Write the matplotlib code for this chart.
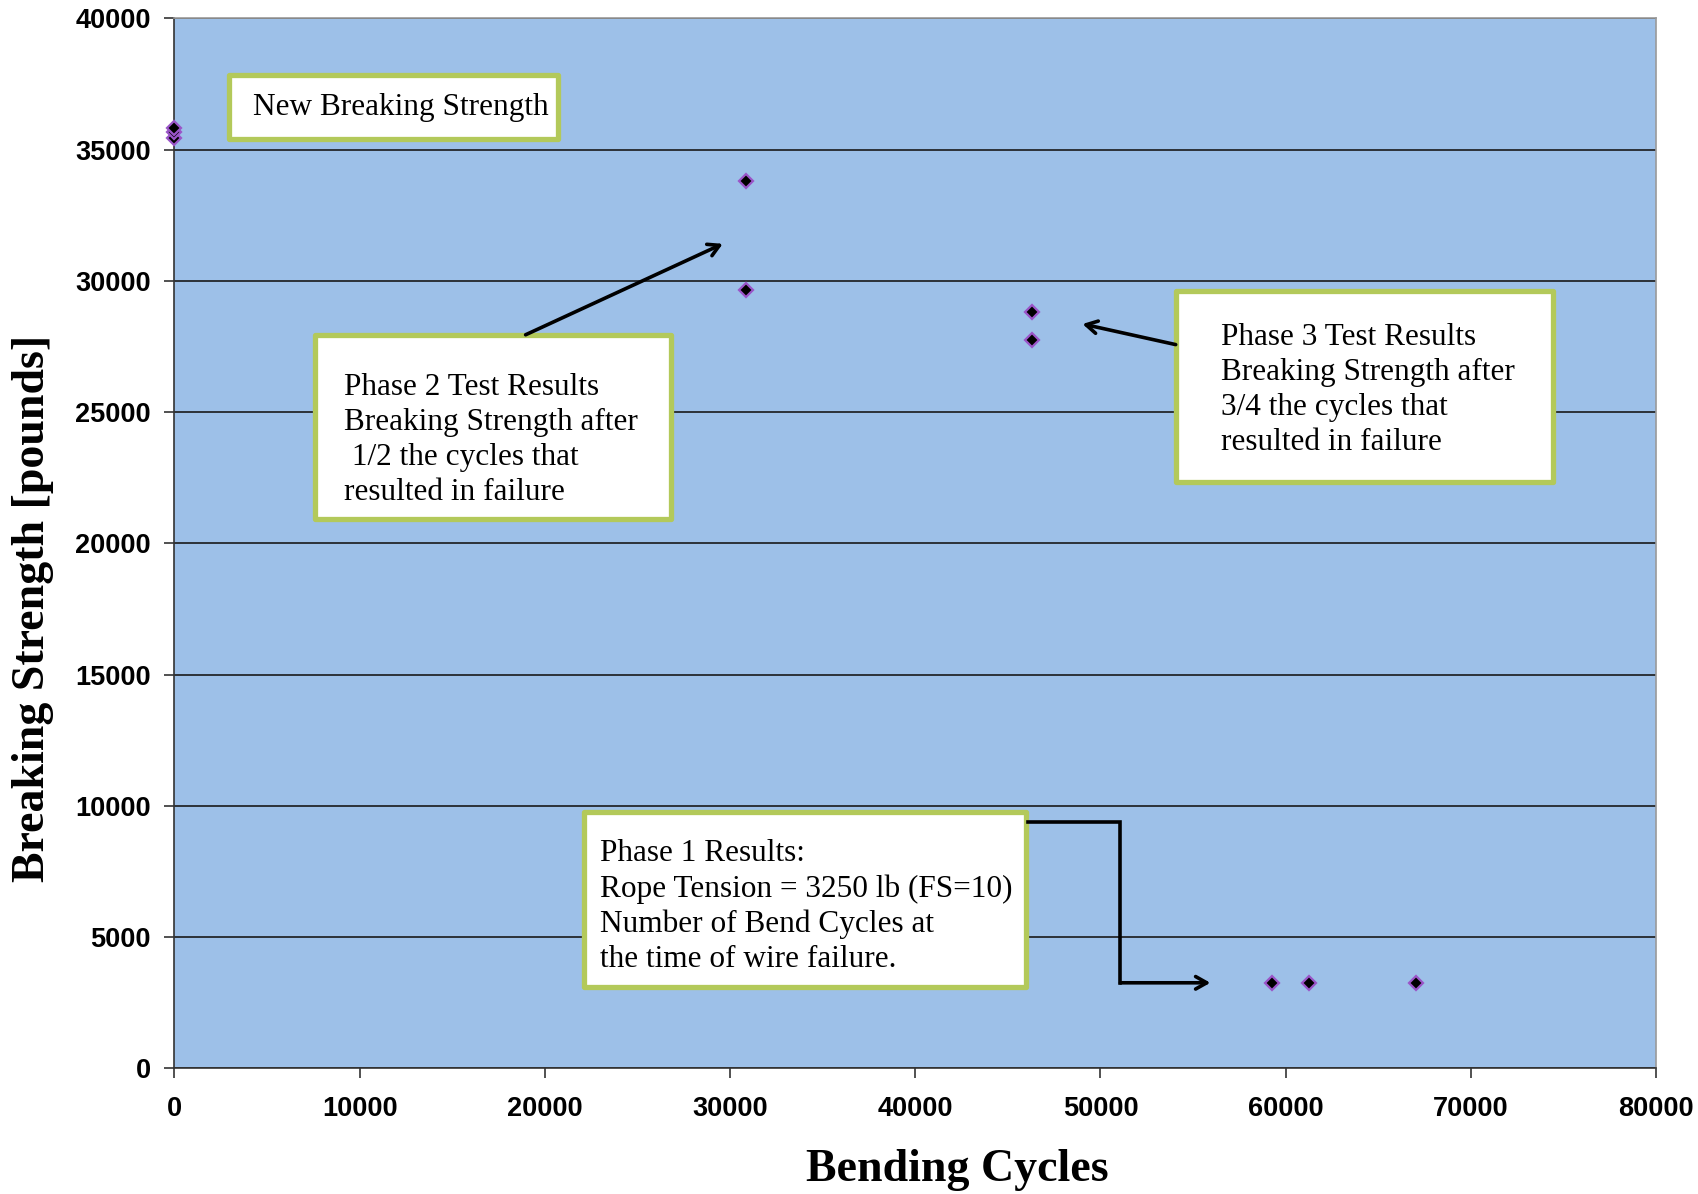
import matplotlib
matplotlib.use("Agg")
import matplotlib.pyplot as plt
from matplotlib.patches import Rectangle

# ---- data ----
new_x = [0, 0, 0]
new_y = [35460, 35670, 35830]
phase2_x = [30850, 30850]
phase2_y = [33810, 29640]
phase3_x = [46300, 46300]
phase3_y = [28810, 27740]
phase1_x = [59280, 61270, 67060]
phase1_y = [3250, 3250, 3250]

x_ticks = [0, 10000, 20000, 30000, 40000, 50000, 60000, 70000, 80000]
y_ticks = [0, 5000, 10000, 15000, 20000, 25000, 30000, 35000, 40000]

fig = plt.figure(figsize=(16.99, 11.94), dpi=100)
fig.patch.set_facecolor("white")
ax = fig.add_axes([0.1027, 0.1052, 0.8720, 0.8794])
ax.set_facecolor("#9DC0E8")
ax.set_xlim(0, 80000)
ax.set_ylim(0, 40000)
ax.set_xticks(x_ticks)
ax.set_yticks(y_ticks)
ax.yaxis.grid(True, color="#1a1a1a", lw=1.2)
ax.set_axisbelow(True)
for s in ["top", "right"]:
    ax.spines[s].set_color("#9a9a9a")
    ax.spines[s].set_linewidth(1.2)
for s in ["left", "bottom"]:
    ax.spines[s].set_color("#333333")
    ax.spines[s].set_linewidth(1.2)
ax.tick_params(direction="out", length=7, width=1.2, color="#333333", pad=10)
for lab in ax.get_xticklabels() + ax.get_yticklabels():
    lab.set_family("Liberation Sans")
    lab.set_fontweight("bold")
    lab.set_fontsize(19.5)
ax.tick_params(axis="x", pad=13)

mk = dict(marker="D", ms=7, mfc="black", mec="#9A55C8", mew=1.6, ls="none", zorder=5, clip_on=False)
for xs, ys in [(new_x, new_y), (phase2_x, phase2_y), (phase3_x, phase3_y), (phase1_x, phase1_y)]:
    ax.plot(xs, ys, **mk)

fig.text(957 / 1699, 1 - 1170 / 1194, "Bending Cycles", family="Liberation Serif", fontweight="bold",
         fontsize=33, ha="center", va="center")
fig.text(33 / 1699, 1 - 608 / 1194, "Breaking Strength [pounds]", family="Liberation Serif",
         fontweight="bold", fontsize=33, ha="center", va="center", rotation=90)

# ---- annotation boxes ----
border = "#B3C95A"
boxes = [
    (2921, 35417, 20709, 37851),
    (7587, 20929, 26811, 27939),
    (54079, 22339, 74437, 29596),
    (22113, 3101, 45980, 9783),
]
for x0, y0, x1, y1 in boxes:
    ax.add_patch(Rectangle((x0, y0), x1 - x0, y1 - y0, facecolor="white",
                           edgecolor=border, lw=3.8, zorder=6, joinstyle="round"))

tk = dict(family="Liberation Serif", fontsize=22.5, ha="left", va="top", zorder=7,
          linespacing=1.28)
ax.text(4250, 37150, "New Breaking Strength", **tk)
ax.text(9150, 26500, "Phase 2 Test Results\nBreaking Strength after\n 1/2 the cycles that\nresulted in failure", **tk)
ax.text(56520, 28400, "Phase 3 Test Results\nBreaking Strength after\n3/4 the cycles that\nresulted in failure", **tk)
ax.text(23000, 8750, "Phase 1 Results:\nRope Tension = 3250 lb (FS=10)\nNumber of Bend Cycles at\nthe time of wire failure.", **tk)

arr = dict(arrowstyle="->,head_length=0.8,head_width=0.45", color="black", lw=2.6,
           shrinkA=0, shrinkB=0)
ax.annotate("", xy=(29607, 31413), xytext=(18960, 27947), arrowprops=arr, zorder=8)
ax.annotate("", xy=(49031, 28358), xytext=(54063, 27573), arrowprops=arr, zorder=8)
ax.plot([46088, 51083, 51083], [9368, 9368, 3261], color="black", lw=2.6, zorder=8,
        solid_joinstyle="miter")
ax.annotate("", xy=(55937, 3261), xytext=(51083, 3261), arrowprops=arr, zorder=8)

fig.savefig("out.png", dpi=100, facecolor=fig.get_facecolor())
